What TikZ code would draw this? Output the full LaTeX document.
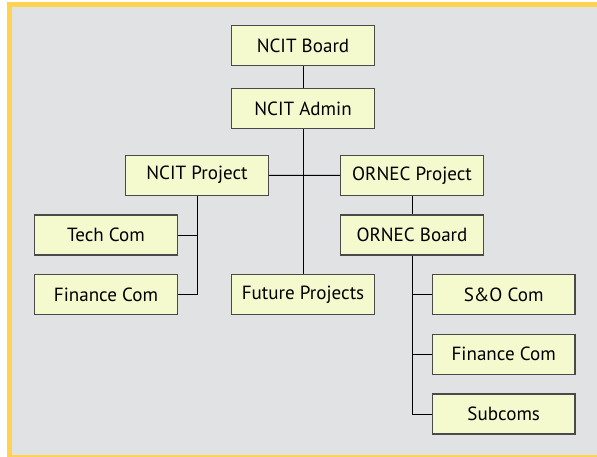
\documentclass[tikz,border=0pt]{standalone}
\usepackage{fontspec}
\setmainfont{PT Sans}
\definecolor{framey}{HTML}{FFD24F}
\definecolor{panel}{HTML}{E1E2E4}
\definecolor{boxfill}{HTML}{F5F9CE}
\definecolor{boxline}{HTML}{4A4A4A}
\tikzset{
  unit/.style={draw=boxline, line width=0.9pt, fill=boxfill, minimum width=107pt, minimum height=30pt, inner sep=0pt, font=\fontsize{14.3}{16}\selectfont},
  link/.style={line width=0.75pt, black}
}

\begin{document}
\begin{tikzpicture}[x=0.75pt,y=-0.75pt]
\useasboundingbox (0,0) rectangle (597,457);
\fill[white] (0,0) rectangle (597,457);
\fill[framey] (7,2) rectangle (597,457);
\fill[panel] (12,7) rectangle (597,455);

\node[unit] (board) at (303,45.5) {NCIT Board};
\node[unit] (admin) at (303,108.7) {NCIT Admin};
\node[unit] (ncitproj) at (197,175.2) {NCIT Project};
\node[unit] (ornecproj) at (412,175.5) {ORNEC Project};
\node[unit] (ornecboard) at (412,235) {ORNEC Board};
\node[unit] (tech) at (106,235) {Tech Com};
\node[unit] (ncitfin) at (106,294.8) {Finance Com};
\node[unit] (future) at (303,294.8) {Future Projects};
\node[unit] (socom) at (503.7,294.5) {S\&O Com};
\node[unit] (ornecfin) at (503.7,354.3) {Finance Com};
\node[unit] (subcoms) at (503.7,414) {Subcoms};

\draw[link] (board) -- (admin);
\draw[link] (admin) -- (future);
\draw[link] (ncitproj) -- (ornecproj);
\draw[link] (ornecproj) -- (ornecboard);
\draw[link] (ncitproj.south) |- (ncitfin.east);
\draw[link] (tech.east) -- (ncitproj.south |- tech.east);
\draw[link] (ornecboard.south) |- (subcoms.west);
\foreach \c in {socom,ornecfin}
  \draw[link] (\c.west) -- (ornecboard.south |- \c.west);
\end{tikzpicture}
\end{document}
